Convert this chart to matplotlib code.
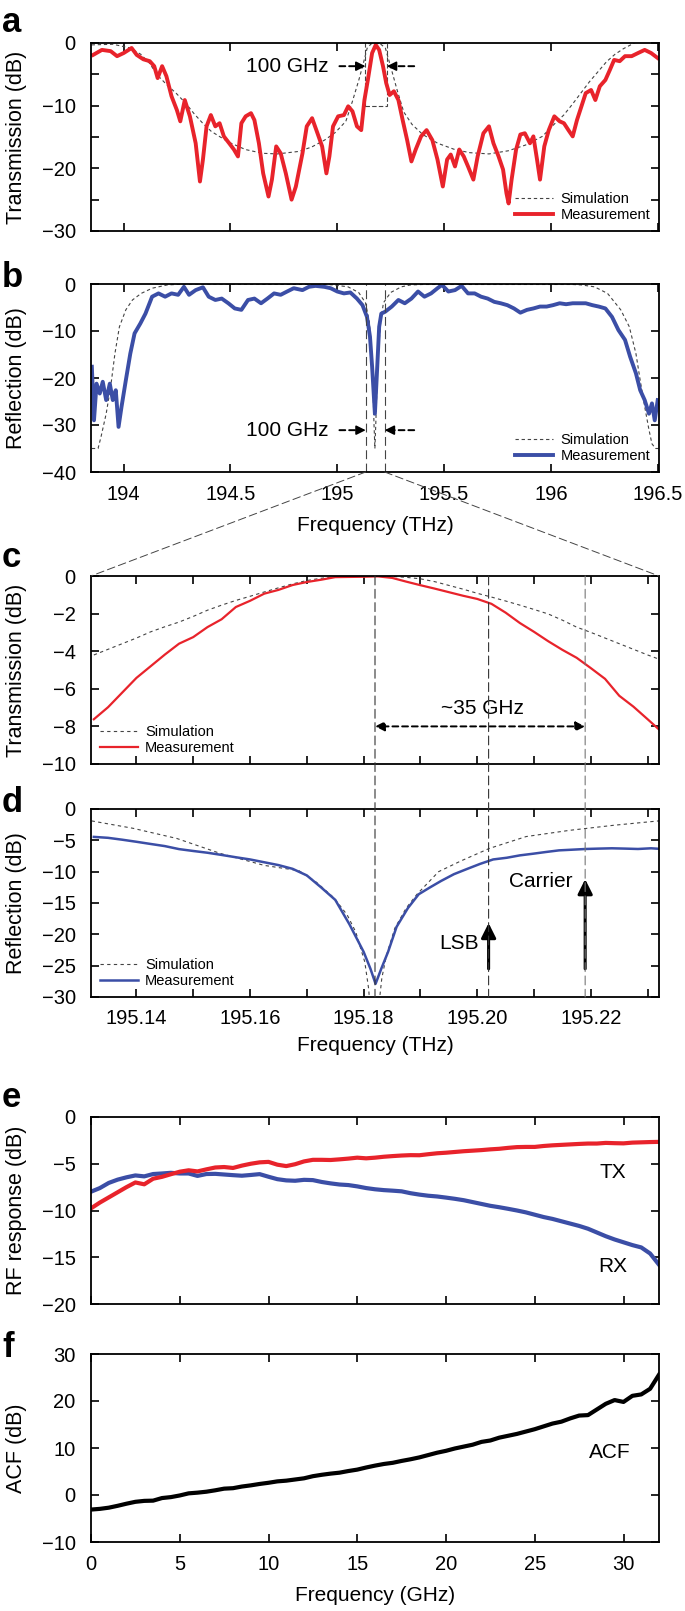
import numpy as np
import matplotlib.pyplot as plt
from matplotlib.patches import ConnectionPatch, Rectangle
from matplotlib.ticker import MultipleLocator

plt.rcParams['font.family'] = ['Liberation Sans', 'DejaVu Sans']
plt.rcParams['font.size'] = 15
plt.rcParams['xtick.labelsize'] = 14.5
plt.rcParams['ytick.labelsize'] = 14.5
plt.rcParams['axes.labelsize'] = 15
plt.rcParams['axes.linewidth'] = 1.3

RED = '#e8232b'
BLUE = '#3b4ea6'
GREY = '#444444'

# ---- panel a: transmission, wide span (THz / dB)
a_meas_f = [193.857, 193.898, 193.939, 193.969, 194.000, 194.037, 194.061, 194.092, 194.122, 194.143,
            194.159, 194.180, 194.200, 194.224, 194.249, 194.265, 194.286, 194.310, 194.337, 194.357,
            194.371, 194.388, 194.408, 194.429, 194.449, 194.469, 194.494, 194.516, 194.535, 194.551,
            194.571, 194.596, 194.612, 194.633, 194.653, 194.678, 194.694, 194.714, 194.735, 194.759,
            194.786, 194.806, 194.837, 194.857, 194.882, 194.902, 194.929, 194.949, 194.963, 194.980,
            195.004, 195.031, 195.051, 195.071, 195.092, 195.112, 195.127, 195.143, 195.163, 195.180,
            195.196, 195.214, 195.229, 195.245, 195.265, 195.286, 195.306, 195.327, 195.347, 195.367,
            195.392, 195.418, 195.445, 195.469, 195.494, 195.514, 195.531, 195.551, 195.571, 195.592,
            195.612, 195.637, 195.657, 195.684, 195.710, 195.731, 195.755, 195.776, 195.792, 195.802,
            195.816, 195.837, 195.857, 195.878, 195.902, 195.918, 195.935, 195.949, 195.969, 195.990,
            196.016, 196.041, 196.061, 196.082, 196.102, 196.122, 196.143, 196.163, 196.188, 196.208,
            196.229, 196.255, 196.276, 196.296, 196.322, 196.347, 196.378, 196.408, 196.439, 196.469,
            196.500]
a_meas_db = [-1.9, -1.1, -1.3, -2.1, -1.6, -0.8, -1.9, -2.6, -2.9, -3.7,
             -5.6, -3.7, -5.3, -8.5, -10.7, -12.5, -9.1, -11.7, -16.0, -22.1,
             -18.6, -13.3, -11.5, -13.3, -12.8, -14.9, -16.0, -17.0, -18.1, -12.8,
             -11.7, -11.2, -12.3, -16.0, -20.8, -24.5, -21.8, -16.5, -17.6, -20.8,
             -25.0, -22.9, -17.6, -13.3, -12.0, -13.9, -16.5, -20.8, -18.1, -13.3,
             -11.7, -11.5, -10.1, -10.9, -13.3, -13.9, -9.1, -5.9, -1.6, -0.3,
             -1.1, -3.7, -6.4, -8.3, -7.7, -9.1, -12.3, -15.5, -18.9, -17.0,
             -14.9, -13.9, -15.5, -18.6, -22.9, -18.6, -17.8, -19.7, -17.0, -18.1,
             -19.7, -21.8, -18.1, -14.4, -13.3, -16.0, -18.1, -20.2, -24.0, -25.6,
             -21.8, -17.0, -14.6, -14.4, -16.0, -14.9, -18.6, -21.8, -16.5, -13.9,
             -11.7, -12.5, -12.8, -13.9, -14.9, -12.3, -10.1, -8.0, -7.5, -9.1,
             -6.9, -5.9, -4.3, -2.7, -2.9, -2.1, -2.1, -1.6, -1.1, -1.6,
             -2.4]
a_sim_f = [193.85, 193.95, 194.03, 194.08, 194.12, 194.16, 194.20, 194.245, 194.29, 194.33,
           194.37, 194.41, 194.49, 194.57, 194.65, 194.72, 194.82, 194.88, 194.94, 194.99,
           195.04, 195.07, 195.10, 195.12, 195.14, 195.16, 195.18, 195.20, 195.225, 195.25,
           195.28, 195.311, 195.35, 195.40, 195.47, 195.55, 195.62, 195.71, 195.80, 195.88,
           195.96, 196.02, 196.06, 196.10, 196.14, 196.18, 196.22, 196.26, 196.30, 196.34,
           196.39, 196.45, 196.506]
a_sim_db = [-0.3, -0.2, -0.8, -1.8, -3.2, -5.2, -6.6, -8.0, -9.6, -11.3,
            -12.8, -14.1, -15.8, -17.0, -17.6, -17.7, -17.3, -16.6, -15.5, -14.3,
            -12.5, -9.4, -6.0, -3.5, -0.8, -0.1, 0.0, -0.1, -0.8, -3.8,
            -7.5, -11.0, -13.0, -14.6, -16.0, -17.0, -17.5, -17.7, -17.2, -16.3,
            -14.9, -12.8, -11.5, -9.8, -8.0, -6.2, -4.6, -3.0, -1.8, -0.9,
            0.0, 0.8, 1.2]

# ---- panel b: reflection, wide span
b_meas_f = [193.851, 193.861, 193.873, 193.888, 193.902, 193.918, 193.935, 193.949, 193.963, 193.976,
            193.990, 194.010, 194.031, 194.051, 194.078, 194.102, 194.133, 194.163, 194.194, 194.224,
            194.255, 194.282, 194.306, 194.337, 194.371, 194.398, 194.429, 194.459, 194.490, 194.520,
            194.551, 194.582, 194.612, 194.643, 194.673, 194.704, 194.735, 194.765, 194.796, 194.837,
            194.867, 194.898, 194.939, 194.969, 195.000, 195.031, 195.061, 195.092, 195.118, 195.139,
            195.153, 195.163, 195.176, 195.187, 195.196, 195.206, 195.224, 195.255, 195.286, 195.316,
            195.347, 195.378, 195.408, 195.439, 195.469, 195.490, 195.520, 195.551, 195.582, 195.612,
            195.643, 195.673, 195.704, 195.735, 195.765, 195.796, 195.827, 195.857, 195.888, 195.918,
            195.949, 195.980, 196.010, 196.041, 196.071, 196.102, 196.133, 196.163, 196.194, 196.224,
            196.255, 196.286, 196.316, 196.347, 196.371, 196.398, 196.418, 196.439, 196.459, 196.473,
            196.486, 196.500]
b_meas_db = [-17.6, -29.0, -21.2, -23.3, -20.8, -24.7, -21.2, -24.7, -22.6, -30.4,
             -26.1, -20.5, -14.8, -10.5, -8.4, -6.3, -2.7, -2.0, -2.7, -2.0,
             -2.3, -0.6, -2.3, -1.3, -0.7, -2.7, -3.4, -3.1, -4.1, -5.2,
             -5.5, -3.4, -3.1, -4.1, -3.1, -2.0, -2.3, -1.6, -0.9, -1.3,
             -0.6, -0.4, -0.6, -0.9, -1.6, -2.0, -1.8, -3.1, -4.5, -7.0,
             -11.2, -17.6, -27.6, -17.6, -9.1, -6.3, -5.9, -4.8, -3.4, -4.1,
             -3.1, -1.6, -2.7, -2.0, -0.9, -0.2, -1.6, -1.3, -0.4, -2.0,
             -2.0, -2.7, -3.1, -3.8, -4.1, -4.5, -5.2, -6.1, -5.5, -5.2,
             -4.8, -4.8, -4.5, -4.1, -4.3, -4.1, -4.1, -4.1, -4.5, -4.8,
             -5.2, -7.0, -9.8, -11.9, -15.5, -19.0, -22.6, -24.7, -27.6, -25.4,
             -29.0, -24.7]
b_sim_f = [193.851, 193.88, 193.894, 193.918, 193.939, 193.959, 193.98, 194.01, 194.041, 194.082,
           194.133, 194.204, 194.286, 194.95, 194.983, 195.05, 195.10, 195.132, 195.15, 195.163,
           195.172, 195.176, 195.18, 195.19, 195.203, 195.216, 195.25, 195.30, 195.342, 195.40,
           196.10, 196.143, 196.204, 196.265, 196.327, 196.367, 196.398, 196.418, 196.439, 196.459,
           196.473, 196.49, 196.506]
b_sim_db = [-35.0, -35.0, -32.5, -27.6, -21.9, -14.8, -9.1, -5.5, -3.4, -2.0,
            -0.9, -0.2, 0.0, -0.1, -0.2, -0.6, -1.8, -4.0, -8.0, -16.0,
            -30.0, -35.0, -30.0, -16.0, -8.0, -4.0, -1.8, -0.6, -0.2, -0.1,
            -0.1, -0.2, -0.6, -2.0, -5.5, -9.1, -14.8, -20.5, -26.1, -31.0,
            -34.0, -35.0, -35.0]

# ---- panel c: transmission, zoom on one channel
c_f = [195.1325, 195.135, 195.1375, 195.14, 195.1425, 195.145, 195.1475, 195.15, 195.1525, 195.155,
       195.1575, 195.16, 195.1625, 195.165, 195.1675, 195.17, 195.1725, 195.175, 195.1775, 195.18,
       195.1825, 195.185, 195.1875, 195.19, 195.1925, 195.195, 195.1975, 195.2, 195.2025, 195.205,
       195.2075, 195.21, 195.2125, 195.215, 195.2175, 195.22, 195.2225, 195.225, 195.2275, 195.23,
       195.2325]
c_meas_db = [-7.62, -6.98, -6.2, -5.42, -4.8, -4.18, -3.6, -3.25, -2.72, -2.3,
             -1.65, -1.32, -0.94, -0.74, -0.48, -0.32, -0.2, -0.06, -0.05, -0.04,
             -0.02, -0.1, -0.3, -0.49, -0.67, -0.86, -1.05, -1.22, -1.48, -1.95,
             -2.5, -2.97, -3.47, -3.93, -4.35, -4.9, -5.47, -6.37, -6.95, -7.62,
             -8.3]
c_sim_db = [-4.2, -3.9, -3.6, -3.3, -2.97, -2.7, -2.45, -2.15, -1.82, -1.55,
            -1.3, -1.08, -0.85, -0.63, -0.42, -0.24, -0.12, -0.05, -0.02, 0.0,
            0.0, -0.02, -0.07, -0.15, -0.3, -0.5, -0.7, -0.92, -1.12, -1.33,
            -1.55, -1.78, -2.02, -2.35, -2.72, -3.0, -3.3, -3.6, -3.9, -4.2,
            -4.48]

# ---- panel d: reflection, zoom on one channel
d_meas_f = [195.1325, 195.135, 195.1375, 195.14, 195.1425, 195.145, 195.1475, 195.15, 195.1525, 195.155,
            195.1575, 195.16, 195.1625, 195.165, 195.1675, 195.17, 195.1725, 195.175, 195.1775, 195.18,
            195.1812, 195.1821, 195.1831, 195.1843, 195.1858, 195.1878, 195.1897, 195.1917, 195.1936, 195.1959,
            195.1982, 195.2005, 195.2028, 195.2052, 195.2075, 195.2098, 195.2121, 195.2144, 195.2168, 195.2191,
            195.2214, 195.2237, 195.226, 195.2283, 195.2306, 195.2325]
d_meas_db = [-4.45, -4.6, -4.9, -5.23, -5.58, -5.92, -6.4, -6.7, -6.98, -7.33,
             -7.7, -8.05, -8.5, -8.95, -9.55, -10.6, -12.5, -14.5, -18.4, -22.8,
             -25.5, -27.9, -25.5, -22.8, -18.8, -15.8, -13.6, -12.5, -11.5, -10.4,
             -9.57, -8.76, -8.05, -7.78, -7.4, -7.14, -6.86, -6.6, -6.49, -6.38,
             -6.32, -6.27, -6.32, -6.38, -6.27, -6.38]
d_sim_f = [195.1321, 195.1394, 195.1471, 195.1548, 195.1625, 195.1686, 195.1717, 195.1748, 195.1771, 195.1786,
           195.1802, 195.1809, 195.1817, 195.1826, 195.1832, 195.184, 195.1855, 195.1875, 195.1894, 195.1932,
           195.1971, 195.2021, 195.2086, 195.2163, 195.224, 195.2325]
d_sim_db = [-1.9, -3.08, -4.7, -7.1, -9.0, -9.84, -11.7, -14.2, -16.9, -19.6,
            -24.4, -28.8, -40.0, -32.0, -27.0, -23.4, -19.0, -15.8, -13.6, -10.0,
            -8.3, -6.3, -4.4, -3.4, -2.6, -1.85]

# ---- panels e, f: RF responses (GHz / dB)
rf_f = [0, 0.5, 1, 1.5, 2, 2.5, 3, 3.5, 4, 4.5, 5, 5.5, 6, 6.5, 7, 7.5, 8, 8.5, 9, 9.5,
        10, 10.5, 11, 11.5, 12, 12.5, 13, 13.5, 14, 14.5, 15, 15.5, 16, 16.5, 17, 17.5, 18, 18.5, 19, 19.5,
        20, 20.5, 21, 21.5, 22, 22.5, 23, 23.5, 24, 24.5, 25, 25.5, 26, 26.5, 27, 27.5, 28, 28.5, 29, 29.5,
        30, 30.5, 31, 31.5, 32]
tx_db = [-9.77, -9.15, -8.6, -8.05, -7.5, -7.0, -7.2, -6.6, -6.4, -6.12, -5.85, -5.7, -5.82, -5.6, -5.4, -5.35, -5.45, -5.2, -5.0, -4.85,
         -4.8, -5.1, -5.25, -5.05, -4.75, -4.58, -4.58, -4.6, -4.53, -4.45, -4.35, -4.42, -4.35, -4.25, -4.18, -4.12, -4.08, -4.09, -3.98, -3.88,
         -3.82, -3.74, -3.66, -3.6, -3.54, -3.46, -3.4, -3.3, -3.22, -3.2, -3.2, -3.1, -3.03, -2.98, -2.93, -2.88, -2.84, -2.84, -2.77, -2.8,
         -2.82, -2.74, -2.71, -2.68, -2.66]
rx_db = [-7.99, -7.6, -7.05, -6.7, -6.45, -6.25, -6.35, -6.1, -6.04, -5.97, -6.04, -6.04, -6.3, -6.1, -6.08, -6.15, -6.22, -6.28, -6.2, -6.11,
         -6.39, -6.65, -6.78, -6.82, -6.72, -6.75, -6.95, -7.1, -7.22, -7.28, -7.42, -7.6, -7.73, -7.82, -7.88, -7.95, -8.15, -8.3, -8.42, -8.5,
         -8.62, -8.75, -8.9, -9.1, -9.3, -9.5, -9.65, -9.82, -10.0, -10.2, -10.45, -10.7, -10.9, -11.15, -11.4, -11.65, -11.95, -12.35, -12.75, -13.1,
         -13.4, -13.7, -13.95, -14.6, -15.8]
acf_db = [-3.1, -2.95, -2.7, -2.3, -1.85, -1.45, -1.25, -1.2, -0.65, -0.45, -0.1, 0.35, 0.5, 0.7, 1.0, 1.35, 1.45, 1.8, 2.05, 2.35,
          2.6, 2.9, 3.05, 3.3, 3.55, 4.0, 4.3, 4.55, 4.75, 5.1, 5.4, 5.85, 6.25, 6.6, 6.85, 7.25, 7.6, 8.0, 8.5, 9.0,
          9.4, 9.9, 10.3, 10.7, 11.3, 11.6, 12.2, 12.6, 13.0, 13.5, 14.0, 14.6, 15.2, 15.6, 16.3, 16.9, 17.0, 18.2, 19.4, 20.2,
          19.8, 21.1, 21.4, 22.6, 25.6]

# markers
zoom_lo, zoom_hi = 195.132, 195.232      # range of panels c, d
b_mark = [195.133, 195.222]              # dashed marks drawn in panel b
res_f, lsb_f, car_f = 195.182, 195.202, 195.219

W, H = 685, 1611
fig = plt.figure(figsize=(W / 100, H / 100), dpi=100)


def axes_px(top, bottom, left=91, right=659):
    return fig.add_axes([left / W, 1 - bottom / H, (right - left) / W, (bottom - top) / H])


ax_a = axes_px(43, 231)
ax_b = axes_px(284, 472)
ax_c = axes_px(576, 764)
ax_d = axes_px(809, 997)
ax_e = axes_px(1117, 1304)
ax_f = axes_px(1354, 1542)

for ax in [ax_a, ax_b, ax_c, ax_d, ax_e, ax_f]:
    ax.tick_params(which='both', direction='in', top=True, right=True, length=6, width=1.2)
    ax.tick_params(axis='y', pad=11)
    ax.tick_params(axis='x', pad=9)

sim_kw = dict(color=GREY, lw=0.8, ls=(0, (3, 2.5)))
leg_kw = dict(frameon=False, fontsize=10.5, handlelength=2.6, handletextpad=0.5, labelspacing=0.15)

# ---- a
ax_a.plot(a_sim_f, a_sim_db, label='Simulation', **sim_kw)
ax_a.plot(a_meas_f, a_meas_db, color=RED, lw=2.8, label='Measurement')
ax_a.add_patch(Rectangle((zoom_lo, -10), zoom_hi - zoom_lo, 10, fill=False, ec=GREY, lw=0.8, ls=(0, (4, 2))))
ax_a.set_xlim(193.847, 196.506)
ax_a.set_ylim(-30, 0)
ax_a.xaxis.set_major_locator(MultipleLocator(0.5))
ax_a.set_xticklabels([])
ax_a.yaxis.set_major_locator(MultipleLocator(10))
ax_a.yaxis.set_minor_locator(MultipleLocator(5))
ax_a.set_ylabel('Transmission (dB)')
ax_a.legend(loc='lower right', borderaxespad=0.2, **leg_kw)
ax_a.text(194.96, -3.7, '100 GHz', ha='right', va='center')

# ---- b
ax_b.plot(b_sim_f, b_sim_db, label='Simulation', **sim_kw)
ax_b.plot(b_meas_f, b_meas_db, color=BLUE, lw=2.8, label='Measurement')
for xm in b_mark:
    ax_b.axvline(xm, color=GREY, lw=0.8, ls=(0, (8, 4)))
ax_b.set_xlim(193.847, 196.506)
ax_b.set_ylim(-40, 0)
ax_b.yaxis.set_major_locator(MultipleLocator(10))
ax_b.set_xticks([194, 194.5, 195, 195.5, 196, 196.5])
ax_b.set_xticklabels(['194', '194.5', '195', '195.5', '196', '196.5'])
ax_b.set_ylabel('Reflection (dB)')
ax_b.set_xlabel('Frequency (THz)')
ax_b.legend(loc='lower right', borderaxespad=0.2, **leg_kw)
ax_b.text(194.96, -31.1, '100 GHz', ha='right', va='center')


def gap_arrows(ax, y, x_left, x_right, tip_l, tip_r):
    for x0, x1 in [(x_left, tip_l), (x_right, tip_r)]:
        ax.annotate('', xy=(x1, y), xytext=(x0, y),
                    arrowprops=dict(arrowstyle='-', color='k', lw=1.4, ls=(0, (3, 2)), shrinkA=0, shrinkB=4))
        ax.annotate('', xy=(x1, y), xytext=(x1 + (x0 - x1) * 0.3, y),
                    arrowprops=dict(arrowstyle='-|>', color='k', lw=1.2, mutation_scale=14, shrinkA=0, shrinkB=0))


gap_arrows(ax_a, -3.7, 195.01, 195.36, zoom_lo, zoom_hi)
gap_arrows(ax_b, -31.1, 195.01, 195.36, b_mark[0], b_mark[1])

# ---- c
ax_c.plot(c_f, c_sim_db, color=GREY, lw=0.8, ls=(0, (3, 3)), label='Simulation')
ax_c.plot(c_f, c_meas_db, color=RED, lw=1.6, label='Measurement')
ax_c.set_xlim(zoom_lo, zoom_hi)
ax_c.set_ylim(-10, 0)
ax_c.xaxis.set_major_locator(MultipleLocator(0.02))
ax_c.xaxis.set_minor_locator(MultipleLocator(0.01))
ax_c.set_xticklabels([])
ax_c.yaxis.set_major_locator(MultipleLocator(2))
ax_c.set_ylabel('Transmission (dB)')
ax_c.legend(loc='lower left', borderaxespad=0.2, **leg_kw)
ax_c.annotate('', xy=(res_f, -8.0), xytext=(car_f, -8.0),
              arrowprops=dict(arrowstyle='<|-|>', color='k', lw=1.4, ls=(0, (3, 2)), mutation_scale=14,
                              shrinkA=0, shrinkB=0))
ax_c.text((res_f + car_f) / 2 + 0.0005, -7.05, '~35 GHz', ha='center', va='center')

# ---- d
ax_d.plot(d_sim_f, d_sim_db, color=GREY, lw=0.8, ls=(0, (3, 3)), label='Simulation')
ax_d.plot(d_meas_f, d_meas_db, color=BLUE, lw=1.8, label='Measurement')
ax_d.set_xlim(zoom_lo, zoom_hi)
ax_d.set_ylim(-30, 0)
ax_d.xaxis.set_major_locator(MultipleLocator(0.02))
ax_d.xaxis.set_minor_locator(MultipleLocator(0.01))
ax_d.xaxis.set_major_formatter(lambda v, p: f'{v:.2f}')
ax_d.yaxis.set_major_locator(MultipleLocator(5))
ax_d.set_ylabel('Reflection (dB)')
ax_d.set_xlabel('Frequency (THz)')
ax_d.legend(loc='lower left', borderaxespad=0.2, **leg_kw)
ax_d.annotate('', xy=(lsb_f, -18.2), xytext=(lsb_f, -25.5),
              arrowprops=dict(arrowstyle='-|>', color='k', lw=2.2, mutation_scale=22, shrinkA=0, shrinkB=0))
ax_d.annotate('', xy=(car_f, -11.2), xytext=(car_f, -25.5),
              arrowprops=dict(arrowstyle='-|>', color='k', lw=2.2, mutation_scale=22, shrinkA=0, shrinkB=0))
ax_d.text(lsb_f - 0.0018, -21.5, 'LSB', ha='right', va='center')
ax_d.text(car_f - 0.0022, -11.5, 'Carrier', ha='right', va='center')

# ---- e
ax_e.plot(rf_f, rx_db, color=BLUE, lw=3.0)
ax_e.plot(rf_f, tx_db, color=RED, lw=3.0)
ax_e.set_xlim(0, 32)
ax_e.set_ylim(-20, 0)
ax_e.xaxis.set_major_locator(MultipleLocator(5))
ax_e.yaxis.set_major_locator(MultipleLocator(5))
ax_e.set_xticklabels([])
ax_e.set_ylabel('RF response (dB)')
ax_e.text(29.4, -5.9, 'TX', ha='center', va='center')
ax_e.text(29.4, -16.0, 'RX', ha='center', va='center')

# ---- f
ax_f.plot(rf_f, acf_db, color='k', lw=3.0)
ax_f.set_xlim(0, 32)
ax_f.set_ylim(-10, 30)
ax_f.xaxis.set_major_locator(MultipleLocator(5))
ax_f.yaxis.set_major_locator(MultipleLocator(10))
ax_f.set_ylabel('ACF (dB)')
ax_f.set_xlabel('Frequency (GHz)')
ax_f.text(29.2, 9.0, 'ACF', ha='center', va='center')

for ax in [ax_a, ax_b, ax_c, ax_d, ax_e, ax_f]:
    ax.yaxis.label.set_fontsize(15.5)
    ax.yaxis.set_label_coords(-0.112, 0.5)
for ax in [ax_b, ax_f]:
    ax.xaxis.set_label_coords(0.5, -0.235)
ax_d.xaxis.set_label_coords(0.5, -0.21)

# zoom guides from b to c
for xm, xc in [(b_mark[0], 0), (b_mark[1], 1)]:
    con = ConnectionPatch(xyA=(xm, -40), coordsA=ax_b.transData, xyB=(xc, 1), coordsB=ax_c.transAxes,
                          color=GREY, lw=0.7, ls=(0, (8, 4)))
    fig.add_artist(con)

# markers through c and d
for xm, col in [(res_f, '#333333'), (lsb_f, '#333333'), (car_f, '#777777')]:
    con = ConnectionPatch(xyA=(xm, 0), coordsA=ax_c.transData, xyB=(xm, -30), coordsB=ax_d.transData,
                          color=col, lw=0.8, ls=(0, (8, 4)))
    fig.add_artist(con)

for letter, base in [('a', 32), ('b', 287), ('c', 567), ('d', 812), ('e', 1107), ('f', 1357)]:
    fig.text(2 / W, 1 - base / H, letter, fontsize=25, fontweight='bold', va='baseline', ha='left')

fig.savefig('out.png', dpi=100)
